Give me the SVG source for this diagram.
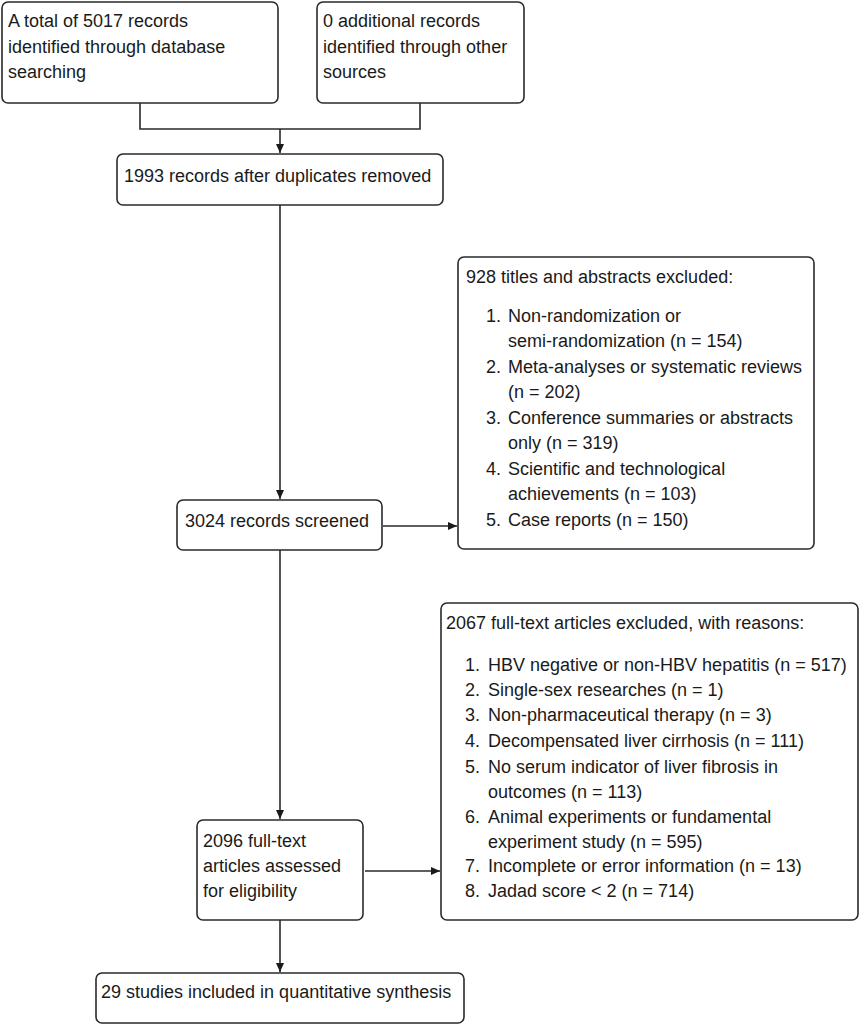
<svg xmlns="http://www.w3.org/2000/svg" width="865" height="1025" viewBox="0 0 865 1025">
<style>
.box{fill:#fff;stroke:#2a2a2a;stroke-width:1.6}
.t{font-family:"Liberation Sans",Arial,sans-serif;font-size:18px;fill:#1a1a1a}
.c{fill:none;stroke:#2a2a2a;stroke-width:1.6}
</style>
<defs>
<marker id="arr" markerUnits="userSpaceOnUse" markerWidth="10" markerHeight="8" refX="9" refY="4" orient="auto">
<path d="M0,0 L9,4 L0,8 Z" fill="#1a1a1a"/>
</marker>
</defs>
<rect width="865" height="1025" fill="#fff"/>
<g id="connectors">
<path class="c" d="M140,103 V129 H420 V103"/>
<path class="c" d="M280,129 V153" marker-end="url(#arr)"/>
<path class="c" d="M280,205 V499" marker-end="url(#arr)"/>
<path class="c" d="M383,526 H457" marker-end="url(#arr)"/>
<path class="c" d="M280,550 V819" marker-end="url(#arr)"/>
<path class="c" d="M365,871 H440" marker-end="url(#arr)"/>
<path class="c" d="M280,920 V972" marker-end="url(#arr)"/>
</g>
<g id="n1">
<rect class="box" x="2" y="2" width="276" height="101" rx="6"/>
<text class="t" x="8" y="27">A total of 5017 records</text>
<text class="t" x="8" y="53">identified through database</text>
<text class="t" x="8" y="78">searching</text>
</g>
<g id="n2">
<rect class="box" x="317" y="2" width="207" height="101" rx="6"/>
<text class="t" x="323" y="27">0 additional records</text>
<text class="t" x="323" y="53">identified through other</text>
<text class="t" x="323" y="78">sources</text>
</g>
<g id="n3">
<rect class="box" x="117" y="154" width="326" height="51" rx="6"/>
<text class="t" x="124" y="182">1993 records after duplicates removed</text>
</g>
<g id="n4">
<rect class="box" x="177" y="500" width="205" height="50" rx="6"/>
<text class="t" x="185" y="527">3024 records screened</text>
</g>
<g id="n5">
<rect class="box" x="458" y="257" width="356" height="292" rx="6"/>
<text class="t" x="466" y="283">928 titles and abstracts excluded:</text>
<text class="t" x="486" y="322">1.</text>
<text class="t" x="508" y="322">Non-randomization or</text>
<text class="t" x="508" y="347">semi-randomization (n = 154)</text>
<text class="t" x="486" y="373">2.</text>
<text class="t" x="508" y="373">Meta-analyses or systematic reviews</text>
<text class="t" x="508" y="398">(n = 202)</text>
<text class="t" x="486" y="424">3.</text>
<text class="t" x="508" y="424">Conference summaries or abstracts</text>
<text class="t" x="508" y="449">only (n = 319)</text>
<text class="t" x="486" y="475">4.</text>
<text class="t" x="508" y="475">Scientific and technological</text>
<text class="t" x="508" y="500">achievements (n = 103)</text>
<text class="t" x="486" y="526">5.</text>
<text class="t" x="508" y="526">Case reports (n = 150)</text>
</g>
<g id="n6">
<rect class="box" x="441" y="603" width="417" height="317" rx="6"/>
<text class="t" x="446" y="629">2067 full-text articles excluded, with reasons:</text>
<text class="t" x="465" y="671">1.</text>
<text class="t" x="488" y="671">HBV negative or non-HBV hepatitis (n = 517)</text>
<text class="t" x="465" y="696">2.</text>
<text class="t" x="488" y="696">Single-sex researches (n = 1)</text>
<text class="t" x="465" y="721">3.</text>
<text class="t" x="488" y="721">Non-pharmaceutical therapy (n = 3)</text>
<text class="t" x="465" y="747">4.</text>
<text class="t" x="488" y="747">Decompensated liver cirrhosis (n = 111)</text>
<text class="t" x="465" y="773">5.</text>
<text class="t" x="488" y="773">No serum indicator of liver fibrosis in</text>
<text class="t" x="488" y="798">outcomes (n = 113)</text>
<text class="t" x="465" y="823">6.</text>
<text class="t" x="488" y="823">Animal experiments or fundamental</text>
<text class="t" x="488" y="848">experiment study (n = 595)</text>
<text class="t" x="465" y="872">7.</text>
<text class="t" x="488" y="872">Incomplete or error information (n = 13)</text>
<text class="t" x="465" y="897">8.</text>
<text class="t" x="488" y="897">Jadad score &lt; 2 (n = 714)</text>
</g>
<g id="n7">
<rect class="box" x="197" y="820" width="166" height="100" rx="6"/>
<text class="t" x="203" y="847">2096 full-text</text>
<text class="t" x="203" y="872">articles assessed</text>
<text class="t" x="203" y="897">for eligibility</text>
</g>
<g id="n8">
<rect class="box" x="96" y="973" width="368" height="50" rx="6"/>
<text class="t" x="101" y="998">29 studies included in quantitative synthesis</text>
</g>
</svg>
